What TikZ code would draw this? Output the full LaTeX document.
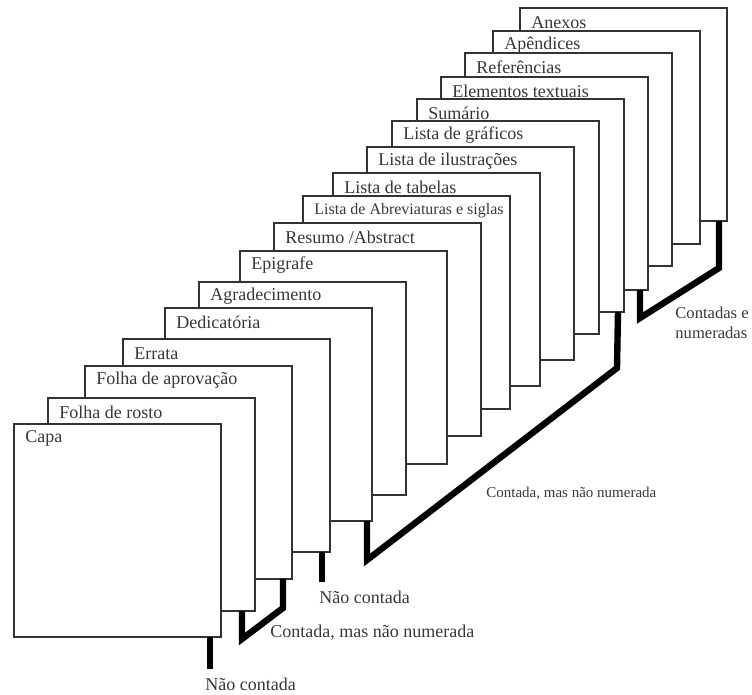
\documentclass[tikz,border=0pt]{standalone}
\usepackage{fontspec}
\setmainfont{Liberation Serif}
\usepackage{tikz}
\usetikzlibrary{calc}
\definecolor{labelgray}{RGB}{52,56,62}
\tikzstyle{page}=[rectangle,draw=black!80,fill=white,line width=0.65pt,anchor=north west,minimum width=103.5pt,minimum height=106.5pt,inner sep=0pt,outer sep=0pt]
\tikzstyle{pagelabel}=[anchor=west,inner sep=0pt,text=labelgray,font=\fontsize{9}{10}\selectfont]
\tikzstyle{bracket}=[line width=3.2pt,black]
\tikzstyle{bracketlabel}=[anchor=west,inner sep=0pt,text=labelgray,font=\fontsize{9}{10}\selectfont]

\begin{document}
\begin{tikzpicture}[x=0.5pt,y=-0.5pt]
	\useasboundingbox (0,0) rectangle (752,695);
	\foreach \i/\x/\y/\t in {17/520/8/Anexos,16/493/31/Apêndices,15/465/53/Referências,
		14/441/77/Elementos textuais,13/417/99/Sumário,12/392/121/Lista de gráficos,
		11/367/147/Lista de ilustrações,10/333/173/Lista de tabelas,
		9/303/196/{\fontsize{8}{9}\selectfont Lista de Abreviaturas e siglas},
		8/274/223/{Resumo /Abstract},7/240/251/Epigrafe,6/199/282/Agradecimento,
		5/165/308/Dedicatória,4/123/339/Errata,3/85/366/Folha de aprovação,
		2/48/398/Folha de rosto,1/14/424/Capa}{
		\node[page] (p\i) at (\x,\y) {};
		\node[pagelabel] (t\i) at ($(p\i.north west)+(11,14.5)$) {\t};
	}
	\draw[bracket] ($(p1.south east)+(-11,0)$) -- ++(0,32) coordinate (nc1);
	\node[bracketlabel] (l1) at ($(nc1)+(-5,15)$) {Não contada};
	\draw[bracket] ($(p2.south east)+(-13,0)$) -- ++(0,28) coordinate (c2) -- ++(41,-31) -- ($(p3.south east)+(-9,0)$);
	\node[bracketlabel] (l2) at ($(c2)+(28,-6)$) {Contada, mas não numerada};
	\draw[bracket] ($(p4.south east)+(-8,0)$) -- ++(0,30) coordinate (nc3);
	\node[bracketlabel] (l3) at ($(nc3)+(-3,15)$) {Não contada};
	\draw[bracket] ($(p5.south east)+(-5,0)$) -- ++(0,39) coordinate (c4) -- ++(250,-192) -- ($(p13.south east)+(-6,0)$);
	\node[bracketlabel,font=\fontsize{7.5}{9}\selectfont] (l4) at ($(c4)+(119,-67)$) {Contada, mas não numerada};
	\draw[bracket] ($(p14.south east)+(-8,0)$) -- ++(0,28) coordinate (c5) -- ++(79,-50) -- ($(p17.south east)+(-8,0)$);
	\node[bracketlabel,anchor=north west,align=left,font=\fontsize{8.3}{10}\selectfont] (l5) at ($(c5)+(35,-11)$) {Contadas e\\numeradas};
\end{tikzpicture}
\end{document}
